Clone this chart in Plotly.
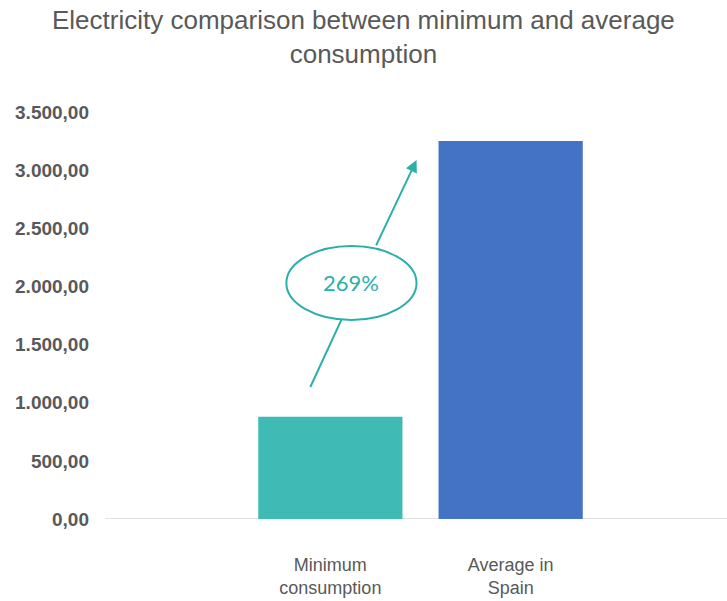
import plotly.graph_objects as go

categories = ["Minimum<br>consumption", "Average in<br>Spain"]
values = [880, 3250]
bar_colors = ["#3FBAB5", "#4472C4"]
tick_vals = [0, 500, 1000, 1500, 2000, 2500, 3000, 3500]
tick_text = ["0,00", "500,00", "1.000,00", "1.500,00", "2.000,00", "2.500,00", "3.000,00", "3.500,00"]
pct_label = "269%"
title_text = "Electricity comparison between minimum and average<br>consumption"

teal = "#2AAFA9"
gray = "#595959"

fig = go.Figure()
fig.add_trace(go.Bar(x=[0, 1], y=values, marker=dict(color=bar_colors, line=dict(width=0)),
                     width=0.8, hoverinfo="skip"))

# arrow lower part (below ellipse)
fig.add_shape(type="line", xref="x", yref="y", x0=-0.111, y0=1135, x1=0.061, y1=1712,
              line=dict(color=teal, width=2))
# arrow upper part with head
fig.add_annotation(x=0.478, y=3087, ax=0.25, ay=2340, xref="x", yref="y", axref="x", ayref="y",
                   text="", showarrow=True, arrowhead=2, arrowsize=1.2, arrowwidth=2, arrowcolor=teal)
# ellipse
fig.add_shape(type="circle", xref="x", yref="y", x0=-0.244, x1=0.478, y0=1711, y1=2347,
              line=dict(color=teal, width=2), fillcolor="white", layer="above")
fig.add_annotation(x=0.117, y=2030, xref="x", yref="y", text=pct_label, showarrow=False,
                   font=dict(family="Lato", size=22, color=teal))

# title
fig.add_annotation(x=0.415, xref="paper", xanchor="center", y=1.184, yref="paper", yanchor="middle",
                   text=title_text, showarrow=False, align="center",
                   font=dict(family="Liberation Sans, Arial", size=26, color=gray))

fig.update_layout(
    width=727, height=601,
    margin=dict(l=105, r=0, t=112, b=82),
    paper_bgcolor="white", plot_bgcolor="white",
    showlegend=False,
    xaxis=dict(range=[-1.25, 2.2], tickvals=[0, 1], ticktext=categories, showgrid=False,
               zeroline=False, showline=False, ticks="", ticklabelstandoff=33,
               tickfont=dict(family="Liberation Sans, Arial", size=18, color=gray)),
    yaxis=dict(range=[0, 3500], tickvals=tick_vals, ticktext=tick_text, showgrid=False,
               zeroline=False, showline=False, ticks="", ticklabelstandoff=15,
               tickfont=dict(family="Liberation Sans, Arial", size=19, color=gray, weight="bold")),
)
fig.add_shape(type="line", xref="paper", yref="y", x0=0, x1=1, y0=0, y1=0,
              line=dict(color="#D9D9D9", width=1.5), layer="below")

fig.write_html("out.html")
